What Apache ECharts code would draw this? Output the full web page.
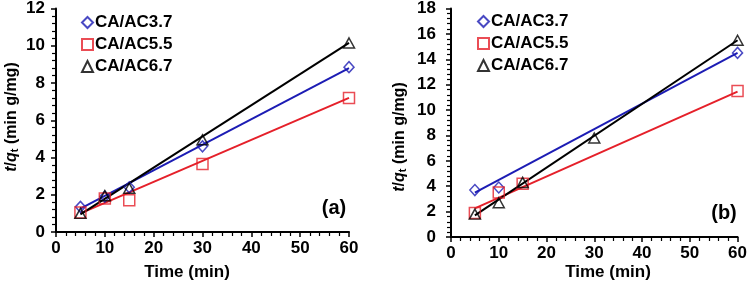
<!DOCTYPE html>
<html>
<head>
<meta charset="utf-8">
<script src="https://cdn.jsdelivr.net/npm/echarts@6/dist/echarts.min.js"></script>
<style>
  html, body { margin: 0; padding: 0; background: #fff; }
  #chart { width: 750px; height: 284px; }
</style>
</head>
<body>
<div id="chart"></div>
<script>
// time points (min)
var timeA = [5, 10, 15, 30, 60];
var timeB = [5, 10, 15, 30, 60];
var names = ['CA/AC3.7', 'CA/AC5.5', 'CA/AC6.7'];

// panel (a) t/qt values
var ac37A = [1.35, 1.9, 2.4, 4.6, 8.85];
var ac55A = [1.05, 1.8, 1.7, 3.65, 7.2];
var ac67A = [1.0, 1.95, 2.35, 4.95, 10.15];

// panel (b) t/qt values (null = not visible in the figure)
var ac37B = [3.7, 3.9, null, null, 14.5];
var ac55B = [1.9, 3.5, 4.2, null, 11.5];
var ac67B = [1.8, 2.7, 4.3, 7.8, 15.5];

// fitted straight lines, end points
var fitX = [5, 60];
var fit37A = [1.25, 8.8];
var fit55A = [1.0, 7.2];
var fit67A = [0.95, 10.15];
var fit37B = [3.5, 14.5];
var fit55B = [2.25, 11.45];
var fit67B = [1.7, 15.5];

var colors = ['#1c1cb4', '#e5202a', '#000000'];
var symbols = ['diamond', 'rect', 'triangle'];
var symSizes = [[10, 11], 11, [11, 10]];
var font = 'Liberation Sans, Arial, sans-serif';

function pairs(xs, ys) {
    var out = [];
    for (var i = 0; i < xs.length; i++) {
        if (ys[i] != null) out.push([xs[i], ys[i]]);
    }
    return out;
}

function xAxis(idx) {
    return {
        type: 'value', gridIndex: idx, min: 0, max: 60, interval: 10,
        axisLine: {lineStyle: {color: '#000', width: 2}},
        axisTick: {show: true, inside: false, length: 5, lineStyle: {color: '#000', width: 1.5}},
        minorTick: {show: true, splitNumber: 5, length: 4, lineStyle: {color: '#000', width: 1.2}},
        splitLine: {show: false},
        axisLabel: {color: '#000', fontSize: 17, fontWeight: 'bold', fontFamily: font, margin: 8}
    };
}

function yAxis(idx, max, margin) {
    return {
        type: 'value', gridIndex: idx, min: 0, max: max, interval: 2,
        axisLine: {show: true, lineStyle: {color: '#000', width: 2}},
        axisTick: {show: true, inside: false, length: 5, lineStyle: {color: '#000', width: 1.5}},
        minorTick: {show: true, splitNumber: 5, length: 4, lineStyle: {color: '#000', width: 1.2}},
        splitLine: {show: false},
        axisLabel: {color: '#000', fontSize: 17, fontWeight: 'bold', fontFamily: font, margin: margin}
    };
}

var series = [];
var panels = [
    {idx: 0, time: timeA, vals: [ac37A, ac55A, ac67A], fits: [fit37A, fit55A, fit67A]},
    {idx: 1, time: timeB, vals: [ac37B, ac55B, ac67B], fits: [fit37B, fit55B, fit67B]}
];
panels.forEach(function (p) {
    for (var k = 0; k < 3; k++) {
        series.push({
            name: 'fit' + p.idx + k,
            type: 'line',
            xAxisIndex: p.idx, yAxisIndex: p.idx,
            symbol: 'none',
            lineStyle: {color: colors[k], width: 2},
            z: 2,
            data: pairs(fitX, p.fits[k])
        });
    }
    for (var k = 0; k < 3; k++) {
        series.push({
            name: names[k],
            type: 'scatter',
            xAxisIndex: p.idx, yAxisIndex: p.idx,
            symbol: symbols[k],
            symbolSize: symSizes[k],
            itemStyle: {color: 'rgba(255,255,255,0)', borderColor: colors[k], borderWidth: 1.5},
            z: 3,
            data: pairs(p.time, p.vals[k])
        });
    }
});

function legend(left, top) {
    return {
        orient: 'vertical', left: left, top: top,
        itemWidth: 11, itemHeight: 11, itemGap: 5,
        selectedMode: false,
        textStyle: {color: '#000', fontSize: 17, fontWeight: 'bold', fontFamily: font, padding: [0, 0, 0, -3]},
        data: names.map(function (n, k) { return {name: n, icon: symbols[k]}; })
    };
}

var yTitleRich = {
    i: {fontStyle: 'italic', fontWeight: 'bold', fontSize: 16, fontFamily: font},
    n: {fontWeight: 'bold', fontSize: 16, fontFamily: font},
    s: {fontWeight: 'bold', fontSize: 11, fontFamily: font, verticalAlign: 'bottom', padding: [6, 0, 0, 0]}
};
var yTitle = '{i|t}{n|/}{i|q}{s|t}{n| (min g/mg)}';

function textEl(x, y, text, size, rot) {
    return {
        type: 'text', x: x, y: y, rotation: rot || 0,
        style: {
            text: text, fill: '#000', font: 'bold ' + size + 'px ' + font,
            align: 'center', verticalAlign: 'middle', rich: yTitleRich
        }
    };
}

var chart = echarts.init(document.getElementById('chart'));
chart.setOption({
    backgroundColor: '#fff',
    animation: false,
    grid: [
        {left: 56, top: 7, width: 293, height: 225},
        {left: 451, top: 7, width: 290, height: 230}
    ],
    xAxis: [xAxis(0), xAxis(1)],
    yAxis: [yAxis(0, 12, 11), yAxis(1, 18, 15)],
    legend: [legend(76, 9), legend(472, 8)],
    graphic: [
        textEl(187, 272, 'Time (min)', 17),
        textEl(608, 272, 'Time (min)', 17),
        textEl(12, 117, yTitle, 16, Math.PI / 2),
        textEl(400, 137, yTitle, 16, Math.PI / 2),
        textEl(334, 208, '(a)', 20),
        textEl(724, 213, '(b)', 20)
    ],
    series: series
});
</script>
</body>
</html>
